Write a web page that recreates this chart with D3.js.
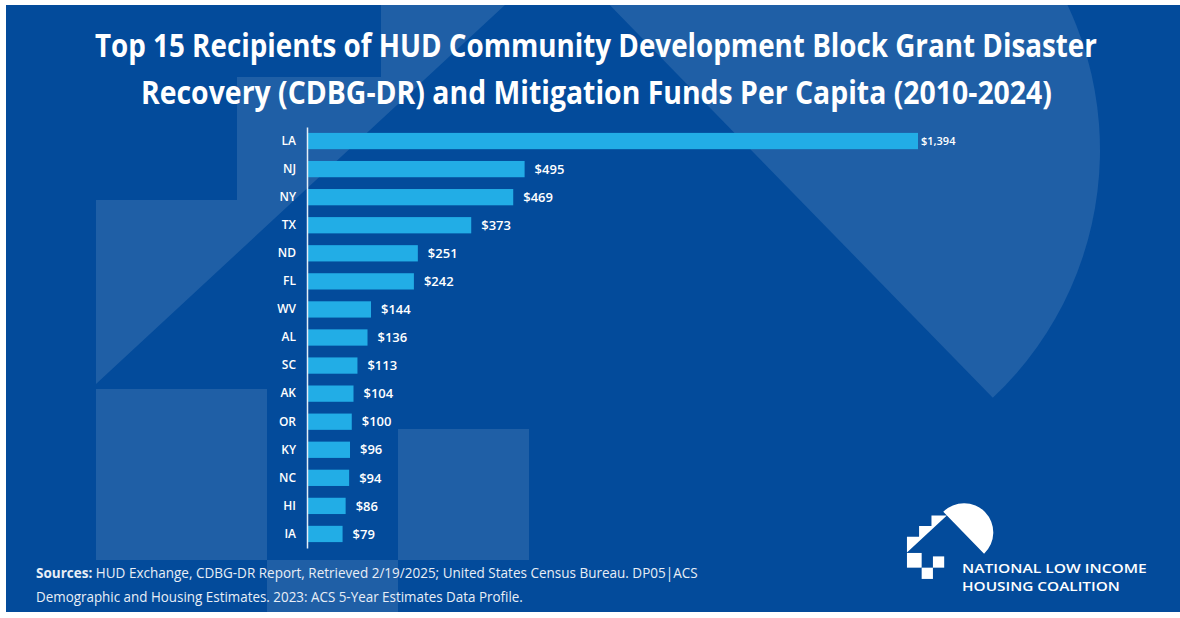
<!DOCTYPE html>
<html lang="en">
<head>
<meta charset="UTF-8">
<title>Top 15 Recipients of HUD CDBG-DR and Mitigation Funds Per Capita</title>
<script src="https://cdn.jsdelivr.net/npm/d3@7"></script>
<style>
    body { margin: 0; background: #fff; }
    svg { display: block; }
    .title { font-family: "Open Sans", sans-serif; font-weight: 700; font-size: 32px; fill: #fff; }
    .axis text { font-family: "Open Sans", sans-serif; font-weight: 600; font-size: 12px; fill: #fff; }
    .axis path { stroke: #e4edf7; stroke-width: 1.5px; }
    .value { font-family: "Open Sans", sans-serif; font-weight: 600; font-size: 13px; fill: #fff; }
    .source { font-family: "Open Sans", sans-serif; font-size: 15px; fill: #e8eef6; }
    .logo-text { font-family: "Open Sans", sans-serif; font-weight: 600; font-size: 12.5px; fill: #fff; }
</style>
</head>
<body>
<svg id="chart" width="1180" height="618"></svg>
<script>
// data
const states = ["LA", "NJ", "NY", "TX", "ND", "FL", "WV", "AL", "SC", "AK", "OR", "KY", "NC", "HI", "IA"];
const perCapita = [1394, 495, 469, 373, 251, 242, 144, 136, 113, 104, 100, 96, 94, 86, 79];

const titleLines = [
    "Top 15 Recipients of HUD Community Development Block Grant Disaster",
    "Recovery (CDBG-DR) and Mitigation Funds Per Capita (2010-2024)"
];
const sourceLabel = "Sources:";
const sourceLines = [
    " HUD Exchange, CDBG-DR Report, Retrieved 2/19/2025; United States Census Bureau. DP05|ACS",
    "Demographic and Housing Estimates. 2023: ACS 5-Year Estimates Data Profile."
];
const logoLines = ["NATIONAL LOW INCOME", "HOUSING COALITION"];

const bg = "#034b9b", shade = "#1f5fa6", barColor = "#22ade6";

const svg = d3.select("#chart");

// blue panel
svg.append("defs").append("clipPath").attr("id", "panel")
    .append("rect").attr("x", 6).attr("y", 5).attr("width", 1174).attr("height", 607);
svg.append("rect").attr("x", 6).attr("y", 5).attr("width", 1174).attr("height", 607).attr("fill", bg);

// house/sun mark, drawn big as a watermark and small as the logo
function circleCut(cx, cy, r, p0, p1) {
    const dx = p1[0] - p0[0], dy = p1[1] - p0[1], L = Math.hypot(dx, dy);
    const ux = dx / L, uy = dy / L;
    const fx = p0[0] - cx, fy = p0[1] - cy;
    const b = fx * ux + fy * uy, c = fx * fx + fy * fy - r * r;
    const s = Math.sqrt(b * b - c);
    const a = [p0[0] + ux * (-b - s), p0[1] + uy * (-b - s)];
    const z = [p0[0] + ux * (-b + s), p0[1] + uy * (-b + s)];
    return `M${a}A${r},${r} 0 1 1 ${z}Z`;
}
function drawMark(g) {
    g.append("path").attr("d", d3.line()([[96, 384], [96, 200], [237, 200], [237, 77], [381, 77], [381, -46], [560, -46]]) + "Z");
    g.append("path").attr("d", circleCut(760, 150, 340, [560, -46], [993, 398]));
    [[96, 389, 171], [267, 560, 131], [398, 429, 131]].forEach(s => {
        g.append("rect").attr("x", s[0]).attr("y", s[1]).attr("width", s[2]).attr("height", s[2]);
    });
}
drawMark(svg.append("g").attr("clip-path", "url(#panel)").attr("fill", shade));
drawMark(svg.append("g").attr("fill", "#fff").attr("transform", "translate(898.7,519.5) scale(0.086)"));

// squeeze a text element to a given width
function fit(sel, x, y, width) {
    const w = sel.node().getComputedTextLength();
    sel.attr("transform", `translate(${x},${y}) scale(${width / w},1)`);
}

// title
const titlePos = [[95, 57, 1002], [141, 104, 911]];
titleLines.forEach((t, i) => {
    const el = svg.append("text").attr("class", "title").text(t);
    fit(el, ...titlePos[i]);
});

// chart
const x = d3.scaleLinear().domain([0, d3.max(perCapita)]).range([308, 918]);
const y = d3.scaleBand().domain(states).range([127, 548]).paddingInner(0.42).paddingOuter(0.21);

const data = states.map((s, i) => ({state: s, value: perCapita[i]}));

svg.append("g")
    .selectAll("rect")
    .data(data)
    .join("rect")
    .attr("x", x(0))
    .attr("y", d => y(d.state))
    .attr("width", d => x(d.value) - x(0))
    .attr("height", y.bandwidth())
    .attr("fill", barColor);

svg.append("g")
    .attr("class", "axis")
    .attr("transform", "translate(307,0)")
    .call(d3.axisLeft(y).tickSize(0).tickSizeOuter(0).tickPadding(11))
    .call(g => g.select(".domain").attr("stroke", "#e4edf7"));

const maxVal = d3.max(perCapita);
svg.append("g")
    .selectAll("text")
    .data(data)
    .join("text")
    .attr("class", "value")
    .attr("x", d => x(d.value) + (d.value === maxVal ? 3 : 10))
    .attr("y", d => y(d.state) + y.bandwidth() / 2)
    .attr("dy", "0.36em")
    .style("font-size", d => d.value === maxVal ? "11px" : null)
    .text(d => "$" + d3.format(",")(d.value));

// sources
const s1 = svg.append("text").attr("class", "source");
s1.append("tspan").attr("font-weight", 700).text(sourceLabel);
s1.append("tspan").text(sourceLines[0]);
fit(s1, 36, 578, 662);
const s2 = svg.append("text").attr("class", "source").text(sourceLines[1]);
fit(s2, 36, 602, 487);

// logo text
const l1 = svg.append("text").attr("class", "logo-text").text(logoLines[0]);
fit(l1, 962, 573, 185);
const l2 = svg.append("text").attr("class", "logo-text").text(logoLines[1]);
fit(l2, 962, 591, 158);
</script>
</body>
</html>
